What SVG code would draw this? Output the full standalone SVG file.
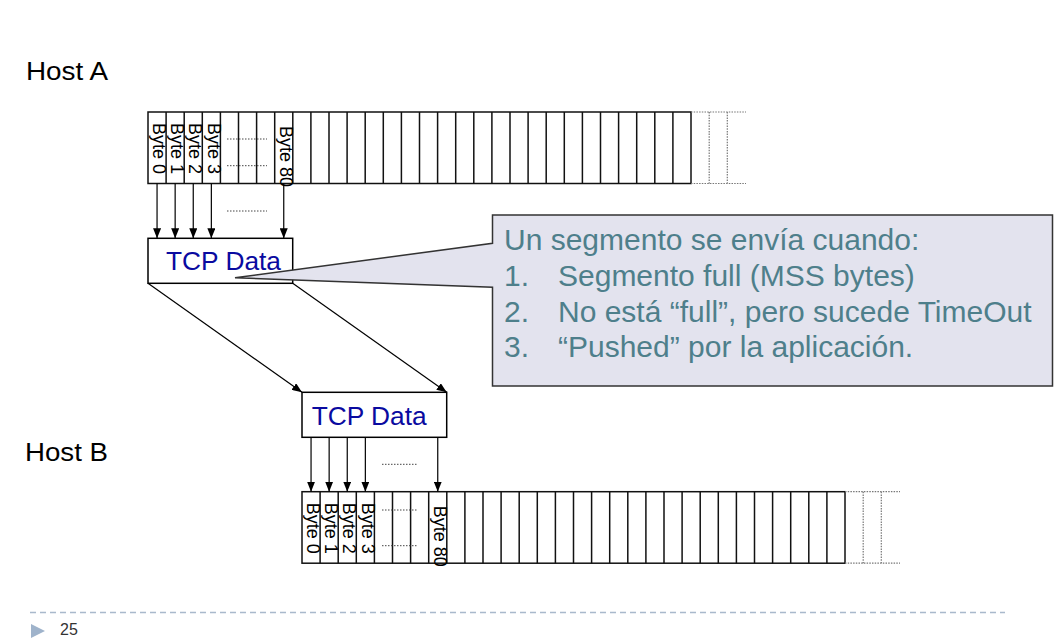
<svg xmlns="http://www.w3.org/2000/svg" xmlns:xlink="http://www.w3.org/1999/xlink" width="1056" height="638" viewBox="0 0 1056 638">
<style>
.host{font-family:"Liberation Sans",Arial,sans-serif;font-size:26px;fill:#000}
.tcp{font-family:"Liberation Sans",Arial,sans-serif;font-size:25px;fill:#0a0aa0}
.byte{font-family:"Liberation Sans",Arial,sans-serif;font-size:18px;fill:#000}
.box{fill:#fff;stroke:#000;stroke-width:1.5}
.grid{fill:none;stroke:#111;stroke-width:1.5}
.ext{fill:none;stroke:#777;stroke-width:1.2;stroke-dasharray:1.5 1.2}
.dots{fill:none;stroke:#444;stroke-width:1;stroke-dasharray:1.5 1.5}
.arr{fill:none;stroke:#000;stroke-width:1.2;marker-end:url(#ah)}
.call{font-family:"Liberation Sans",Arial,sans-serif;font-size:30px;fill:#4e7f8b}
</style>
<defs>
<marker id="ah" viewBox="0 0 10 8" refX="10" refY="4" markerWidth="10" markerHeight="8" markerUnits="userSpaceOnUse" orient="auto">
<path d="M0,0 L10,4 L0,8 z" fill="#000"/>
</marker>
<g id="cells">
<rect x="0" y="0" width="543" height="71.5" class="grid"/>
<path class="grid" d="M18.1 0V71.5M36.2 0V71.5M54.3 0V71.5M72.4 0V71.5M90.5 0V71.5M108.6 0V71.5M126.7 0V71.5M144.8 0V71.5M162.9 0V71.5M181 0V71.5M199.1 0V71.5M217.2 0V71.5M235.3 0V71.5M253.4 0V71.5M271.5 0V71.5M289.6 0V71.5M307.7 0V71.5M325.8 0V71.5M343.9 0V71.5M362 0V71.5M380.1 0V71.5M398.2 0V71.5M416.3 0V71.5M434.4 0V71.5M452.5 0V71.5M470.6 0V71.5M488.7 0V71.5M506.8 0V71.5M524.9 0V71.5"/>
<path class="ext" d="M543 0H598M543 71.5H598M561.2 0V71.5M579.3 0V71.5"/>
</g>
</defs>
<rect width="1056" height="638" fill="#fff"/>

<g id="hostA-label"><text class="host" x="26" y="79.5" textLength="82" lengthAdjust="spacingAndGlyphs">Host A</text></g>
<g id="hostB-label"><text class="host" x="25" y="461" textLength="83" lengthAdjust="spacingAndGlyphs">Host B</text></g>

<g id="bufferA" transform="translate(148,112)">
<use xlink:href="#cells" href="#cells"/>
<text class="byte" transform="translate(5.2,11) rotate(90)">Byte 0</text>
<text class="byte" transform="translate(23.3,11) rotate(90)">Byte 1</text>
<text class="byte" transform="translate(41.4,11) rotate(90)">Byte 2</text>
<text class="byte" transform="translate(59.5,11) rotate(90)">Byte 3</text>
<text class="byte" transform="translate(131.9,14) rotate(90)">Byte 80</text>
<path class="dots" d="M79 27H119M79 53.7H119"/>
</g>

<g id="bufferB" transform="translate(302,491.7)">
<use xlink:href="#cells" href="#cells"/>
<text class="byte" transform="translate(5.2,11) rotate(90)">Byte 0</text>
<text class="byte" transform="translate(23.3,11) rotate(90)">Byte 1</text>
<text class="byte" transform="translate(41.4,11) rotate(90)">Byte 2</text>
<text class="byte" transform="translate(59.5,11) rotate(90)">Byte 3</text>
<text class="byte" transform="translate(131.9,14) rotate(90)">Byte 80</text>
<path class="dots" d="M80 18.3H116M80 54H116"/>
</g>

<g id="tcpA">
<rect class="box" x="148" y="238.3" width="144.7" height="45"/>
<text class="tcp" x="166" y="270" textLength="115" lengthAdjust="spacingAndGlyphs">TCP Data</text>
</g>

<g id="tcpB">
<rect class="box" x="302" y="392.3" width="144.7" height="45"/>
<text class="tcp" x="311.7" y="425" textLength="115" lengthAdjust="spacingAndGlyphs">TCP Data</text>
</g>

<g id="connectors">
<path class="arr" d="M157.05 183.5V238.3"/>
<path class="arr" d="M175.15 183.5V238.3"/>
<path class="arr" d="M193.25 183.5V238.3"/>
<path class="arr" d="M211.35 183.5V238.3"/>
<path class="arr" d="M283.75 183.5V238.3"/>
<path class="dots" d="M227 211H267"/>
<path class="arr" d="M148 283.3L302 392.3"/>
<path class="arr" d="M292.7 283.3L446.7 392.3"/>
<path class="arr" d="M311.05 437.3V491.7"/>
<path class="arr" d="M329.15 437.3V491.7"/>
<path class="arr" d="M347.25 437.3V491.7"/>
<path class="arr" d="M365.35 437.3V491.7"/>
<path class="arr" d="M437.75 437.3V491.7"/>
<path class="dots" d="M382 464.3H418"/>
</g>

<g id="callout">
<path d="M492.5 215H1052.5V386H492.5V287.3L235 277.7L492.5 243.3Z" fill="#e3e3ee" stroke="#333" stroke-width="1.5" stroke-linejoin="miter"/>
<text class="call" x="504" y="250">Un segmento se envía cuando:</text>
<text class="call" x="504" y="286">1.</text><text class="call" x="558" y="286">Segmento full (MSS bytes)</text>
<text class="call" x="504" y="322">2.</text><text class="call" x="558" y="322">No está “full”, pero sucede TimeOut</text>
<text class="call" x="504" y="357">3.</text><text class="call" x="558" y="357">“Pushed” por la aplicación.</text>
</g>

<g id="footer">
<path d="M30 612.5H1005" stroke="#a9b9cc" stroke-width="1.5" stroke-dasharray="6 4" fill="none"/>
<polygon points="31,624 45,631 31,638" fill="#9fb3cb"/>
<text x="60" y="635" font-family="Liberation Sans, Arial, sans-serif" font-size="16" fill="#333">25</text>
</g>
</svg>
